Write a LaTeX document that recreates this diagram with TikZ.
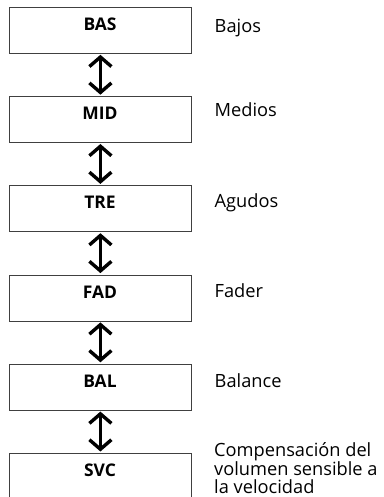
\documentclass[tikz,border=0pt]{standalone}
\usepackage{fontspec}
\setmainfont{Open Sans}
\usetikzlibrary{arrows.meta}
\begin{document}
\begin{tikzpicture}[x=1bp,y=-1bp,
  keybox/.style={draw=black!75,line width=0.8bp,minimum width=182bp,minimum height=46bp,inner sep=0pt,anchor=north west},
  keytxt/.style={font=\fontsize{17.5}{18.5}\selectfont\bfseries,anchor=base,inner sep=0pt},
  lbl/.style={font=\fontsize{18.3}{18.5}\selectfont,anchor=base west,inner sep=0pt},
  dbl/.style={line width=3.4bp,{Straight Barb[length=9.5bp,width=22bp]}-{Straight Barb[length=9.5bp,width=22bp]},shorten <=1bp,shorten >=1.5bp}]
\useasboundingbox (0,0) rectangle (383,497);
\begin{scope}
\clip (0,0) rectangle (383,497);
\node[keybox] (b1) at (9,7) {};
\node[keybox] (b2) at (9,96.2) {};
\node[keybox] (b3) at (9,185.4) {};
\node[keybox] (b4) at (9,274.6) {};
\node[keybox] (b5) at (9,363.8) {};
\node[keybox] (b6) at (9,453) {};
\node[keytxt] (t1) at (100,7+23.5) {BAS};
\node[keytxt] (t2) at (100,96.2+23.5) {MID};
\node[keytxt] (t3) at (100,185.4+23.5) {TRE};
\node[keytxt] (t4) at (100,274.6+23.5) {FAD};
\node[keytxt] (t5) at (100,363.8+23.5) {BAL};
\node[keytxt] (t6) at (100,453+23.5) {SVC};
\draw[dbl] (b1.south) -- (b2.north);
\draw[dbl] (b2.south) -- (b3.north);
\draw[dbl] (b3.south) -- (b4.north);
\draw[dbl] (b4.south) -- (b5.north);
\draw[dbl] (b5.south) -- (b6.north);
\node[lbl] (l1) at (214.5,32.3) {Bajos};
\node[lbl] (l2) at (214.5,117) {Medios};
\node[lbl] (l3) at (214.5,207.2) {Agudos};
\node[lbl] (l4) at (214.5,297.5) {Fader};
\node[lbl] (l5) at (214.5,387) {Balance};
\node[lbl] (l6a) at (214,456.7) {Compensación del};
\node[lbl] (l6b) at (214,475.2) {volumen sensible a};
\node[lbl] (l6c) at (214,493.7) {la velocidad};
\end{scope}
\end{tikzpicture}
\end{document}
